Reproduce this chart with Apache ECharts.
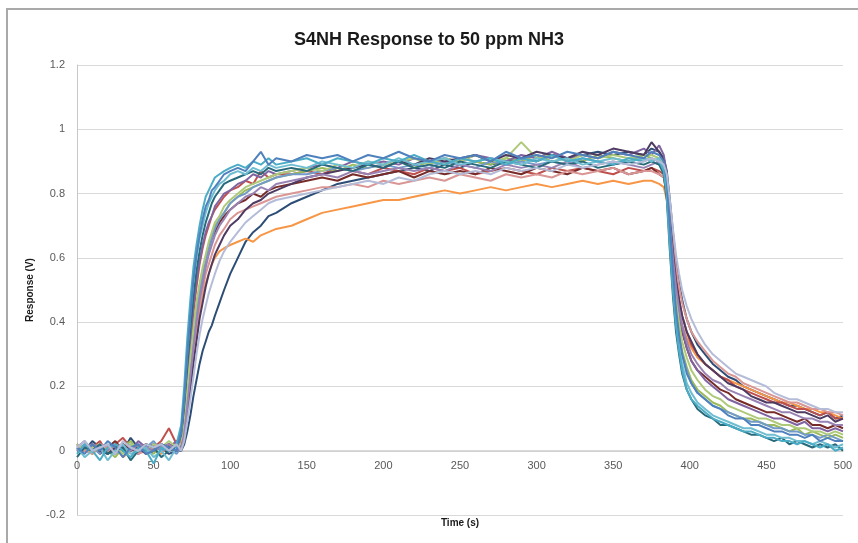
<!DOCTYPE html>
<html>
<head>
<meta charset="utf-8">
<script src="https://cdn.jsdelivr.net/npm/echarts@6/dist/echarts.min.js"></script>
<style>
html,body{margin:0;padding:0;background:#fff;}
#frame{position:absolute;left:6px;top:8px;width:860px;height:545px;border-left:2px solid #a9a9a9;border-top:2px solid #a9a9a9;}
#chart{position:absolute;left:0;top:0;width:858px;height:543px;}
</style>
</head>
<body>
<div id="frame"></div>
<div id="chart"></div>
<script>
// Time samples (s)
const time = [0,5,10,15,20,25,30,35,40,45,50,55,60,65,
  68,70,72,74,76,78,80,82,84,86,88,90,
  93,96,100,
  105,110,115,120,125,130,
  140,150,160,170,180,190,200,210,220,230,240,250,260,270,280,290,300,310,320,330,340,350,360,370,
  375,380,
  383,385,387,389,391,393,395,398,
  401,405,
  410,415,420,425,430,435,440,445,450,455,460,465,470,475,480,485,490,495,500];

const s01 = [0.01,-0.01,0.02,0.00,0.03,0.01,-0.02,0.01,0.02,-0.01,0.00,0.02,0.01,0.00,
  0.06,0.16,0.30,0.42,0.53,0.61,0.67,0.72,0.76,0.78,0.81,0.82,
  0.84,0.86,0.87,
  0.88,0.87,0.90,0.93,0.89,0.91,
  0.90,0.92,0.91,0.92,0.90,0.92,0.91,0.93,0.91,0.90,0.92,0.91,0.92,0.90,0.93,0.91,0.92,0.91,0.93,0.92,0.91,0.93,0.92,0.91,
  0.93,0.92,
  0.90,0.84,0.70,0.56,0.44,0.36,0.30,0.24,
  0.21,0.18,
  0.16,0.14,0.13,0.11,0.10,0.10,0.08,0.08,0.07,0.06,0.06,0.05,0.05,0.04,0.05,0.03,0.04,0.03,0.03];

const s02 = [-0.01,0.02,0.00,-0.03,0.01,0.02,0.00,-0.02,0.01,0.00,-0.04,0.01,0.00,0.02,
  0.08,0.20,0.35,0.47,0.57,0.64,0.70,0.75,0.79,0.81,0.83,0.85,
  0.86,0.87,0.88,
  0.89,0.88,0.90,0.89,0.91,0.89,
  0.90,0.91,0.89,0.91,0.90,0.89,0.91,0.90,0.92,0.90,0.89,0.91,0.90,0.91,0.89,0.91,0.90,0.92,0.90,0.91,0.90,0.89,0.91,0.90,
  0.91,0.90,
  0.87,0.80,0.64,0.50,0.39,0.31,0.25,0.19,
  0.16,0.14,
  0.12,0.10,0.09,0.08,0.07,0.06,0.06,0.05,0.04,0.04,0.03,0.03,0.02,0.03,0.02,0.01,0.02,0.00,0.01];

const s03 = [0.02,0.00,0.01,0.03,-0.01,0.02,0.04,0.01,0.00,0.02,0.01,0.03,0.07,0.02,
  0.03,0.10,0.22,0.33,0.43,0.51,0.58,0.63,0.67,0.70,0.73,0.75,
  0.77,0.79,0.81,
  0.82,0.84,0.83,0.87,0.85,0.86,
  0.86,0.87,0.86,0.88,0.87,0.86,0.88,0.87,0.86,0.88,0.87,0.88,0.86,0.87,0.88,0.87,0.86,0.88,0.87,0.88,0.87,0.86,0.88,0.87,
  0.88,0.87,
  0.86,0.83,0.74,0.63,0.54,0.47,0.42,0.37,
  0.33,0.30,
  0.27,0.25,0.23,0.22,0.20,0.19,0.18,0.17,0.16,0.15,0.15,0.14,0.13,0.13,0.12,0.11,0.12,0.10,0.10];

const s04 = [0.00,0.02,-0.01,0.01,0.00,-0.02,0.01,0.03,0.00,0.01,-0.01,0.02,0.00,0.01,
  0.02,0.07,0.17,0.27,0.36,0.44,0.50,0.56,0.60,0.64,0.67,0.70,
  0.72,0.74,0.77,
  0.79,0.81,0.82,0.83,0.84,0.85,
  0.86,0.87,0.88,0.87,0.89,0.88,0.89,0.90,0.88,0.90,0.89,0.91,0.90,0.89,0.91,0.90,0.92,0.90,0.91,0.90,0.92,0.91,0.90,0.92,
  0.91,0.90,
  0.88,0.82,0.68,0.55,0.45,0.37,0.31,0.26,
  0.22,0.19,
  0.17,0.15,0.14,0.12,0.11,0.10,0.10,0.09,0.08,0.08,0.07,0.06,0.07,0.05,0.06,0.05,0.04,0.05,0.04];

const s05 = [0.01,0.03,0.00,0.02,0.01,-0.01,0.02,0.00,0.03,0.01,0.02,0.00,0.01,0.03,
  0.04,0.12,0.24,0.35,0.45,0.53,0.59,0.64,0.68,0.71,0.73,0.76,
  0.78,0.80,0.81,
  0.83,0.84,0.86,0.85,0.87,0.86,
  0.87,0.88,0.89,0.88,0.90,0.89,0.90,0.89,0.91,0.90,0.91,0.90,0.92,0.91,0.90,0.92,0.91,0.93,0.91,0.92,0.91,0.93,0.92,0.94,
  0.92,0.95,
  0.92,0.86,0.73,0.61,0.51,0.44,0.38,0.32,
  0.28,0.25,
  0.22,0.20,0.18,0.16,0.15,0.14,0.13,0.12,0.11,0.10,0.10,0.09,0.08,0.09,0.07,0.07,0.06,0.07,0.06];

const s06 = [0.00,0.01,-0.01,0.02,0.00,0.01,-0.02,0.00,0.01,0.02,0.00,-0.01,0.02,0.00,
  0.01,0.05,0.13,0.22,0.30,0.37,0.43,0.48,0.52,0.55,0.58,0.60,
  0.62,0.63,0.64,
  0.65,0.66,0.65,0.67,0.68,0.69,
  0.70,0.72,0.74,0.75,0.76,0.77,0.78,0.78,0.79,0.80,0.81,0.80,0.81,0.82,0.81,0.82,0.83,0.82,0.83,0.84,0.83,0.84,0.83,0.84,
  0.84,0.83,
  0.82,0.78,0.68,0.58,0.50,0.44,0.39,0.35,
  0.32,0.29,
  0.27,0.25,0.23,0.22,0.21,0.20,0.19,0.18,0.17,0.16,0.15,0.15,0.14,0.13,0.13,0.12,0.12,0.11,0.10];

const s07 = [0.02,0.00,0.03,0.01,-0.01,0.02,0.00,0.04,0.01,0.00,0.02,0.01,-0.01,0.00,
  0.00,0.02,0.06,0.11,0.17,0.22,0.27,0.31,0.34,0.37,0.39,0.42,
  0.46,0.50,0.55,
  0.60,0.65,0.68,0.70,0.73,0.74,
  0.77,0.79,0.81,0.83,0.84,0.85,0.86,0.87,0.88,0.87,0.89,0.88,0.90,0.89,0.90,0.91,0.90,0.92,0.91,0.92,0.93,0.92,0.93,0.92,
  0.94,0.93,
  0.91,0.87,0.78,0.68,0.59,0.52,0.47,0.41,
  0.37,0.33,
  0.30,0.27,0.25,0.23,0.22,0.20,0.19,0.18,0.17,0.16,0.15,0.14,0.14,0.13,0.12,0.11,0.12,0.10,0.11];

const s08 = [0.01,0.00,0.02,-0.01,0.01,0.03,0.00,0.01,-0.01,0.02,0.00,0.01,0.02,0.01,
  0.02,0.08,0.18,0.28,0.37,0.45,0.51,0.56,0.60,0.63,0.66,0.68,
  0.71,0.73,0.75,
  0.77,0.78,0.80,0.79,0.81,0.82,
  0.83,0.84,0.85,0.84,0.86,0.85,0.86,0.87,0.85,0.87,0.86,0.87,0.86,0.88,0.87,0.86,0.88,0.87,0.86,0.88,0.87,0.88,0.86,0.87,
  0.88,0.86,
  0.85,0.80,0.69,0.58,0.49,0.42,0.37,0.32,
  0.28,0.25,
  0.23,0.21,0.19,0.18,0.16,0.15,0.14,0.13,0.12,0.12,0.11,0.10,0.09,0.10,0.08,0.08,0.07,0.08,0.07];

const s09 = [-0.02,0.01,0.00,0.02,-0.01,0.00,0.01,-0.03,0.00,0.02,0.01,-0.02,0.00,0.01,
  0.05,0.14,0.27,0.38,0.48,0.56,0.62,0.67,0.71,0.74,0.77,0.79,
  0.81,0.83,0.84,
  0.85,0.86,0.87,0.86,0.88,0.87,
  0.88,0.87,0.89,0.88,0.87,0.89,0.88,0.90,0.88,0.89,0.88,0.90,0.89,0.88,0.90,0.89,0.88,0.90,0.89,0.90,0.88,0.89,0.90,0.89,
  0.90,0.89,
  0.86,0.78,0.62,0.48,0.37,0.30,0.24,0.19,
  0.16,0.13,
  0.11,0.10,0.08,0.08,0.07,0.06,0.05,0.05,0.04,0.03,0.04,0.02,0.03,0.02,0.01,0.02,0.01,0.02,0.00];

const s10 = [0.00,0.02,0.01,-0.01,0.02,0.00,0.01,0.02,-0.01,0.01,0.03,0.00,0.01,-0.01,
  0.01,0.06,0.15,0.25,0.34,0.42,0.49,0.54,0.59,0.63,0.66,0.69,
  0.72,0.74,0.77,
  0.79,0.80,0.82,0.83,0.84,0.85,
  0.86,0.86,0.87,0.88,0.87,0.88,0.89,0.88,0.89,0.88,0.90,0.89,0.88,0.90,0.89,0.90,0.89,0.90,0.89,0.91,0.90,0.89,0.90,0.91,
  0.90,0.89,
  0.87,0.81,0.67,0.54,0.44,0.36,0.30,0.25,
  0.21,0.18,
  0.16,0.14,0.13,0.12,0.11,0.10,0.09,0.09,0.08,0.07,0.07,0.06,0.06,0.05,0.05,0.04,0.05,0.04,0.03];

const s11 = [0.01,0.03,0.00,0.01,0.02,-0.01,0.03,0.01,0.00,0.02,0.01,0.02,0.00,0.02,
  0.00,0.03,0.09,0.16,0.23,0.30,0.36,0.41,0.45,0.49,0.52,0.55,
  0.59,0.62,0.65,
  0.68,0.71,0.73,0.75,0.77,0.78,
  0.79,0.80,0.81,0.82,0.83,0.84,0.83,0.85,0.84,0.86,0.87,0.86,0.87,0.86,0.88,0.87,0.88,0.87,0.89,0.88,0.89,0.90,0.89,0.90,
  0.91,0.90,
  0.89,0.86,0.78,0.69,0.61,0.55,0.50,0.45,
  0.41,0.37,
  0.33,0.30,0.28,0.26,0.24,0.23,0.22,0.21,0.20,0.18,0.17,0.16,0.16,0.15,0.14,0.13,0.13,0.12,0.12];

const s12 = [0.00,0.01,0.02,0.00,-0.01,0.01,0.02,0.00,0.01,-0.01,0.00,0.02,0.01,0.00,
  0.01,0.04,0.11,0.19,0.27,0.34,0.41,0.46,0.51,0.55,0.58,0.61,
  0.64,0.67,0.70,
  0.72,0.75,0.77,0.78,0.80,0.81,
  0.83,0.85,0.86,0.87,0.88,0.89,0.88,0.90,0.89,0.91,0.90,0.91,0.92,0.90,0.92,0.91,0.93,0.92,0.91,0.93,0.92,0.94,0.93,0.92,
  0.96,0.93,
  0.90,0.84,0.73,0.62,0.53,0.47,0.42,0.37,
  0.34,0.30,
  0.27,0.25,0.23,0.21,0.20,0.19,0.17,0.16,0.15,0.15,0.14,0.13,0.12,0.12,0.11,0.10,0.11,0.09,0.10];

const s13 = [0.01,-0.02,0.00,0.01,-0.03,0.00,0.02,-0.01,0.00,0.01,-0.02,0.00,-0.03,0.01,
  0.06,0.17,0.31,0.43,0.53,0.60,0.66,0.70,0.74,0.77,0.79,0.81,
  0.83,0.84,0.86,
  0.87,0.86,0.88,0.87,0.89,0.88,
  0.89,0.88,0.90,0.89,0.88,0.90,0.89,0.91,0.89,0.90,0.91,0.89,0.90,0.91,0.90,0.89,0.91,0.90,0.91,0.89,0.90,0.91,0.90,0.91,
  0.90,0.91,
  0.88,0.80,0.65,0.51,0.40,0.32,0.27,0.21,
  0.18,0.15,
  0.13,0.11,0.10,0.09,0.08,0.07,0.07,0.06,0.05,0.05,0.04,0.04,0.03,0.03,0.02,0.03,0.02,0.01,0.02];

const s14 = [0.02,0.00,0.01,0.02,0.00,0.01,-0.01,0.02,0.01,0.00,0.02,0.01,0.03,0.01,
  0.02,0.08,0.19,0.29,0.38,0.46,0.52,0.57,0.61,0.65,0.68,0.71,
  0.73,0.76,0.78,
  0.80,0.82,0.83,0.84,0.85,0.86,
  0.87,0.88,0.87,0.89,0.88,0.90,0.89,0.90,0.91,0.89,0.91,0.90,0.92,0.90,0.91,0.96,0.91,0.92,0.90,0.92,0.91,0.92,0.91,0.92,
  0.92,0.91,
  0.89,0.83,0.70,0.58,0.48,0.40,0.34,0.29,
  0.25,0.22,
  0.19,0.17,0.16,0.14,0.13,0.12,0.11,0.10,0.10,0.09,0.08,0.08,0.07,0.07,0.06,0.06,0.05,0.06,0.05];

const s15 = [0.01,0.00,-0.01,0.02,0.01,0.00,0.02,0.01,-0.01,0.00,0.01,0.02,0.00,0.01,
  0.01,0.05,0.13,0.22,0.31,0.39,0.45,0.50,0.55,0.58,0.61,0.64,
  0.67,0.69,0.72,
  0.74,0.75,0.76,0.77,0.78,0.79,
  0.80,0.81,0.82,0.82,0.83,0.82,0.84,0.83,0.84,0.85,0.84,0.86,0.85,0.84,0.86,0.85,0.86,0.85,0.87,0.86,0.87,0.88,0.86,0.87,
  0.87,0.86,
  0.85,0.82,0.74,0.65,0.57,0.51,0.46,0.41,
  0.37,0.34,
  0.31,0.28,0.26,0.24,0.23,0.21,0.20,0.19,0.18,0.17,0.16,0.15,0.15,0.14,0.13,0.13,0.12,0.12,0.11];

const s16 = [0.00,0.01,0.02,0.01,0.00,0.02,0.01,0.00,0.02,0.01,0.00,0.01,0.02,0.00,
  0.01,0.05,0.14,0.23,0.32,0.40,0.47,0.52,0.57,0.61,0.64,0.67,
  0.70,0.72,0.75,
  0.77,0.79,0.80,0.82,0.81,0.83,
  0.84,0.85,0.86,0.85,0.87,0.86,0.87,0.88,0.87,0.88,0.87,0.89,0.88,0.87,0.89,0.88,0.89,0.88,0.90,0.88,0.89,0.90,0.89,0.88,
  0.89,0.90,
  0.88,0.83,0.71,0.60,0.51,0.44,0.39,0.34,
  0.30,0.27,
  0.24,0.22,0.21,0.19,0.18,0.17,0.16,0.15,0.14,0.13,0.12,0.12,0.11,0.10,0.10,0.09,0.09,0.08,0.08];

const seriesValues = [s07,s06,s03,s08,s04,s05,s10,s14,s15,s12,s16,s09,s13,s02,s01,s11];
const seriesColors = ['#2C4D75','#F79646','#C0504D','#772C2A','#9BBB59','#8064A2','#729ACA','#AFC97A','#D99694','#4D3B62','#9983B5','#276A7C','#6FBDD1','#4BACC6','#4F81BD','#B4BCD8'];

const chart = echarts.init(document.getElementById('chart'), null, {renderer:'canvas'});
const font = 'Liberation Sans, Arial, sans-serif';
chart.setOption({
  animation:false,
  backgroundColor:'transparent',
  title:{text:'S4NH Response to 50 ppm NH3',left:'center',top:26,
    textStyle:{fontFamily:font,fontSize:18,fontWeight:'bold',color:'#1a1a1a'}},
  grid:{left:77,right:15,top:65,bottom:28,outerBoundsMode:'none',containLabel:false},
  xAxis:{type:'value',min:0,max:500,interval:50,position:'bottom',offset:-64,
    name:'Time (s)',nameLocation:'middle',nameGap:67,
    nameTextStyle:{fontFamily:font,fontSize:10,fontWeight:'bold',color:'#1a1a1a'},
    axisLine:{show:true,onZero:false,lineStyle:{color:'#d0d0d0',width:1}},
    axisTick:{show:false},
    axisLabel:{fontFamily:font,fontSize:11,color:'#595959',margin:9},
    splitLine:{show:false}},
  yAxis:{type:'value',min:-0.2,max:1.2,interval:0.2,
    name:'Response (V)',nameLocation:'middle',nameGap:33,
    nameTextStyle:{fontFamily:font,fontSize:10,fontWeight:'bold',color:'#1a1a1a'},
    axisLine:{show:true,lineStyle:{color:'#c8c8c8',width:1}},
    axisTick:{show:false},
    axisLabel:{fontFamily:font,fontSize:11,color:'#595959',margin:12,
      formatter:function(v){return String(Math.round(v*10)/10);}},
    splitLine:{show:true,lineStyle:{color:'#d9d9d9',width:1}}},
  series: seriesValues.map(function(vals,i){
    return {type:'line',showSymbol:false,symbol:'none',
      data: time.map(function(t,j){return [t, vals[j]];}),
      lineStyle:{width:2,color:seriesColors[i]},
      itemStyle:{color:seriesColors[i]}};
  })
});
</script>
</body>
</html>
